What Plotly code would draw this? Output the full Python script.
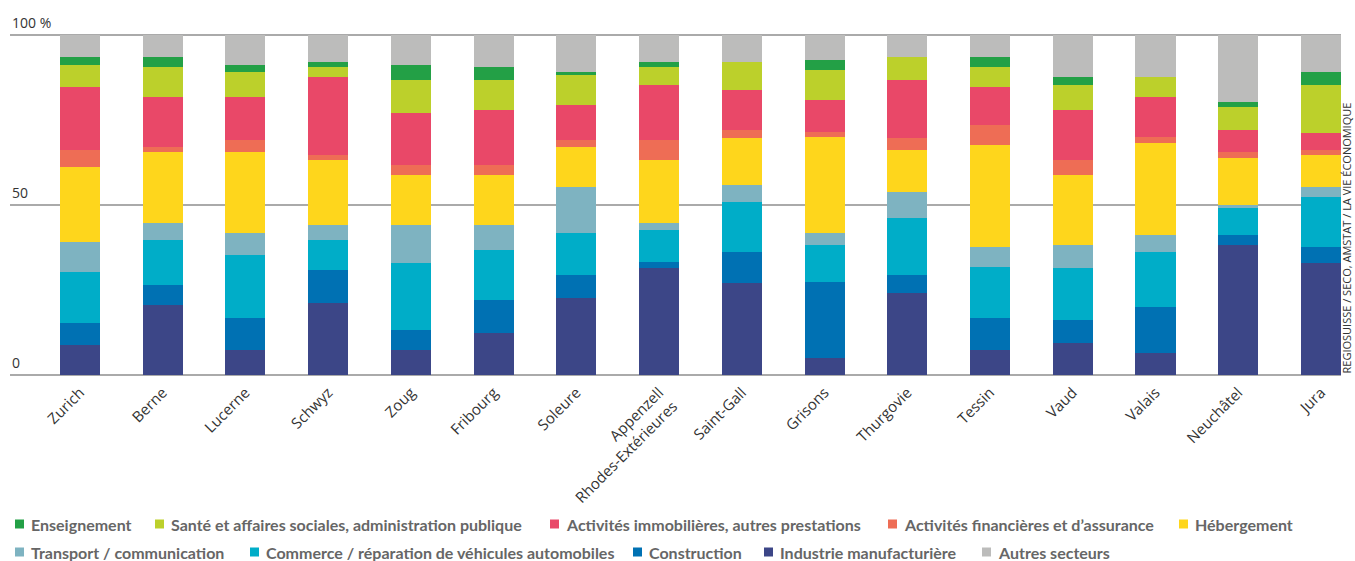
import plotly.graph_objects as go

cantons = ["Zurich", "Berne", "Lucerne", "Schwyz", "Zoug", "Fribourg", "Soleure",
           "Appenzell<br>Rhodes-Extérieures", "Saint-Gall", "Grisons", "Thurgovie",
           "Tessin", "Vaud", "Valais", "Neuchâtel", "Jura"]

industrie = [8.8, 20.6, 7.4, 21.2, 7.4, 12.4, 22.6, 31.5, 27.1, 5.0, 24.1, 7.4, 9.4, 6.5, 38.2, 32.9]
construction = [6.5, 5.9, 9.4, 9.7, 5.8, 9.7, 6.8, 1.7, 9.1, 22.4, 5.3, 9.4, 6.8, 13.5, 3.0, 4.7]
commerce = [15.0, 13.2, 18.5, 8.8, 19.7, 14.7, 12.4, 9.4, 14.7, 10.8, 16.8, 15.0, 15.3, 16.2, 7.9, 14.8]
transport = [8.9, 5.0, 6.5, 4.4, 11.2, 7.3, 13.5, 2.1, 5.0, 3.6, 7.6, 5.8, 6.7, 5.0, 0.9, 2.9]
hebergement = [22.0, 20.9, 23.8, 19.1, 14.7, 14.7, 11.8, 18.5, 13.8, 28.2, 12.4, 30.0, 20.6, 27.0, 13.8, 9.4]
financier = [5.0, 1.5, 3.5, 1.5, 3.0, 3.0, 2.0, 5.9, 2.4, 1.5, 3.5, 5.9, 4.4, 1.8, 1.8, 1.5]
immobilier = [18.5, 14.7, 12.7, 22.9, 15.3, 16.1, 10.3, 16.2, 11.7, 9.4, 17.1, 11.2, 14.7, 11.8, 6.5, 5.0]
sante = [6.5, 8.8, 7.3, 3.0, 9.7, 8.9, 8.8, 5.3, 8.3, 8.8, 6.7, 5.9, 7.4, 5.8, 6.7, 14.1]
enseignement = [2.3, 2.9, 2.1, 1.5, 4.4, 3.8, 0.9, 1.5, 0.0, 2.9, 0.0, 2.9, 2.3, 0.0, 1.5, 3.8]
autres = [6.5, 6.5, 8.8, 7.9, 8.8, 9.4, 10.9, 7.9, 7.9, 7.4, 6.5, 6.5, 12.4, 12.4, 19.7, 10.9]

series_names = ["Industrie manufacturière", "Construction",
                "Commerce / réparation de véhicules automobiles", "Transport / communication",
                "Hébergement", "Activités financières et d’assurance",
                "Activités immobilières, autres prestations",
                "Santé et affaires sociales, administration publique", "Enseignement",
                "Autres secteurs"]
series_values = [industrie, construction, commerce, transport, hebergement, financier,
                 immobilier, sante, enseignement, autres]
colors = ["#3c4687", "#0071b3", "#00adc8", "#7eb3c1", "#fed61c", "#ee6d55",
          "#e94868", "#bcd02b", "#23a046", "#bcbcbb"]

y_tickvals = [0, 50, 100]
y_ticktext = ["0", "50", "100 %"]

fig = go.Figure()
for name, vals, col in zip(series_names, series_values, colors):
    fig.add_trace(go.Bar(x=cantons, y=vals, name=name, marker_color=col,
                         marker_line_width=0, width=0.484, showlegend=False))

W, H = 1355, 561
ml, mr, mt, mb = 10, 14, 34, 185
pw, ph = W - ml - mr, H - mt - mb

def px(x):
    return (x - ml) / pw

def py(y):
    return (H - mb - y) / ph

# manual legend layout (pixel positions of squares)
legend_rows = [
    (524, [("Enseignement", 15), ("Santé et affaires sociales, administration publique", 155),
           ("Activités immobilières, autres prestations", 550),
           ("Activités financières et d’assurance", 888), ("Hébergement", 1179)]),
    (552, [("Transport / communication", 15),
           ("Commerce / réparation de véhicules automobiles", 250),
           ("Construction", 633), ("Industrie manufacturière", 764), ("Autres secteurs", 982)]),
]
color_of = dict(zip(series_names, colors))
shapes = []
annotations = []
sq = 9
for yc, items in legend_rows:
    for name, x0 in items:
        shapes.append(dict(type="rect", xref="paper", yref="paper",
                           x0=px(x0), x1=px(x0 + sq), y0=py(yc + sq / 2), y1=py(yc - sq / 2),
                           fillcolor=color_of[name], line_width=0))
        annotations.append(dict(text=name, xref="paper", yref="paper", x=px(x0 + 14), y=py(yc),
                                xanchor="left", yanchor="middle", showarrow=False,
                                font=dict(family="Lato", size=16, color="#666666", weight=700)))

for v, t in zip(y_tickvals, y_ticktext):
    annotations.append(dict(text=t, xref="paper", yref="y", x=0, y=v, xanchor="left",
                            yanchor="bottom", yshift=1, showarrow=False,
                            font=dict(family="Open Sans", size=14, color="#333333")))

annotations.append(dict(text="REGIOSUISSE / SECO, AMSTAT / LA VIE ÉCONOMIQUE", xref="paper",
                        yref="y", x=px(1346), y=0, xanchor="center", yanchor="bottom",
                        textangle=-90, showarrow=False,
                        font=dict(family="Open Sans", size=11, color="#333333")))

fig.update_layout(
    width=W, height=H, barmode="stack", bargap=0,
    margin=dict(l=ml, r=mr, t=mt, b=mb, pad=0),
    plot_bgcolor="white", paper_bgcolor="white",
    showlegend=False,
    shapes=shapes, annotations=annotations,
    xaxis=dict(range=[-0.846, 15.242], tickangle=-45, showgrid=False, zeroline=False,
               showline=False, ticks="", fixedrange=True, ticklabelstandoff=4,
               tickfont=dict(family="Open Sans", size=15, color="#333333")),
    yaxis=dict(range=[-0.3, 100.3], tickvals=y_tickvals, showticklabels=False,
               showgrid=True, gridcolor="#aaaaaa",
               gridwidth=1.5, zeroline=False, showline=False, ticks=""),
)

fig.write_html("out.html")
